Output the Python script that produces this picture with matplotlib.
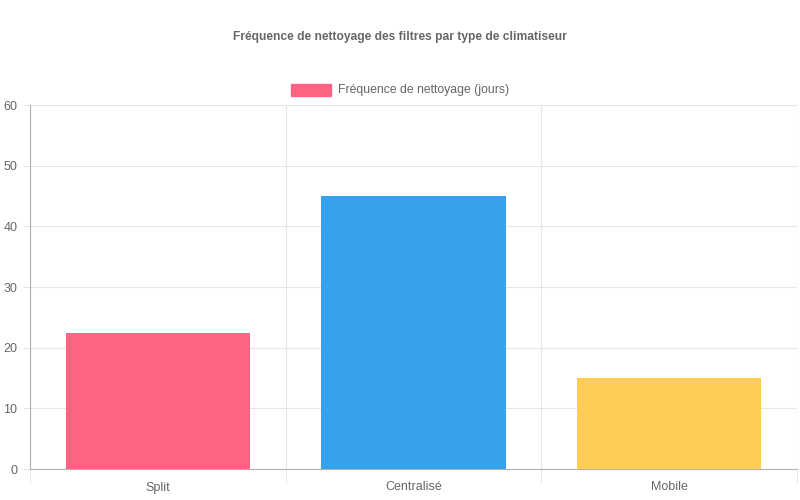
import numpy as np
import matplotlib.pyplot as plt
from matplotlib.patches import Rectangle

plt.rcParams["font.family"] = ["Liberation Sans", "DejaVu Sans"]

categories = ["Split", "Centralisé", "Mobile"]
values = [22.5, 45, 15]
colors = ["#FF6384", "#36A2EB", "#FFCD56"]
yticks = [0, 10, 20, 30, 40, 50, 60]
title = "Fréquence de nettoyage des filtres par type de climatiseur"
legend_label = "Fréquence de nettoyage (jours)"

grid_c = "#e6e6e6"
text_c = "#666666"

fig = plt.figure(figsize=(8, 5), dpi=100)
ax = fig.add_axes([30/800, 31/500, 767/800, 364/500])

x = np.arange(len(categories))
ax.bar(x, values, width=0.72, color=colors, zorder=3)

ax.set_xlim(-0.5, len(categories) - 0.5)
ax.set_ylim(0, 60)
ax.set_yticks(yticks)
ax.set_yticklabels([str(v) for v in yticks], fontsize=9, color=text_c)
ax.set_xticks(x)
ax.set_xticklabels(categories, fontsize=9, color=text_c)
ax.tick_params(axis="x", which="major", length=0, pad=9)
ax.tick_params(axis="y", length=5, color=grid_c, pad=4)

ax.set_xticks(np.arange(-0.5, len(categories)), minor=True)
ax.tick_params(axis="x", which="minor", length=10, color=grid_c)
ax.grid(True, axis="y", color=grid_c, linewidth=0.8, zorder=0)
ax.grid(True, axis="x", which="minor", color=grid_c, linewidth=0.8, zorder=0)

for s in ["top", "right"]:
    ax.spines[s].set_visible(False)
ax.spines["left"].set_color("#b0b0b0")
ax.spines["bottom"].set_color("#b0b0b0")

fig.text(0.5, 1 - 37/500, title, ha="center", va="center",
         fontsize=8.65, fontweight="bold", color=text_c)

# legend drawn by hand to mimic the chart.js box
fig.patches.append(Rectangle((291/800, 1 - 96/500), 40/800, 12/500,
                             transform=fig.transFigure, color=colors[0]))
fig.text(338/800, 1 - 90/500, legend_label, ha="left", va="center",
         fontsize=8.8, color=text_c)

fig.savefig("out.png", dpi=100)
